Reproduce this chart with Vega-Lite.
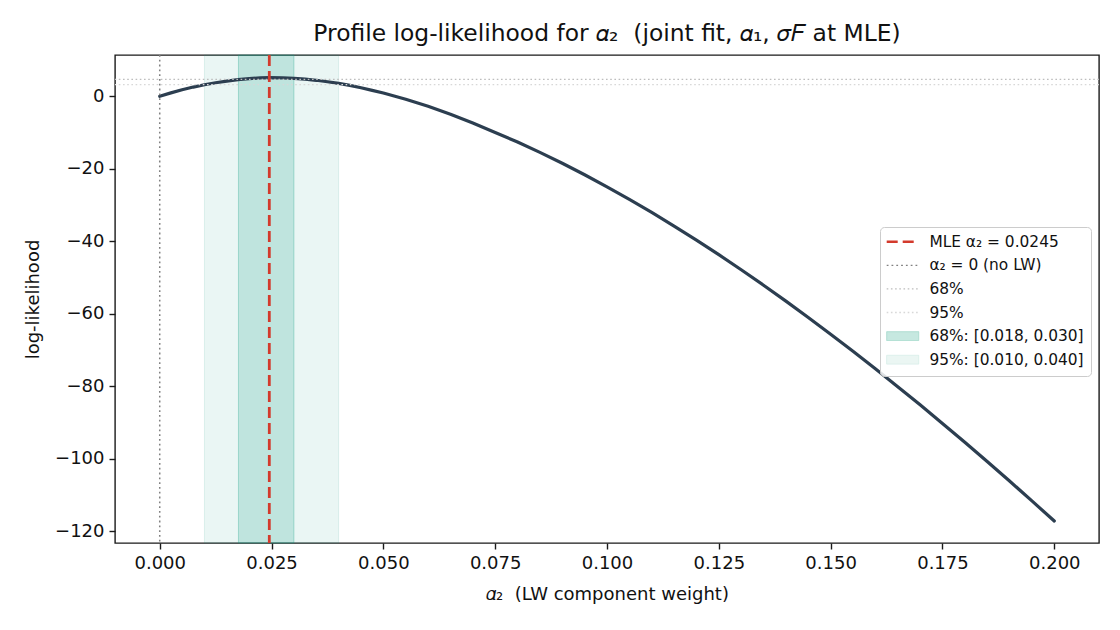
{
  "$schema": "https://vega.github.io/schema/vega-lite/v6.json",
  "width": 984,
  "height": 488,
  "autosize": {"type": "none"},
  "padding": {"left": 115, "top": 55, "right": 21, "bottom": 87},
  "background": "white",
  "config": {
    "font": "DejaVu Sans",
    "view": {"stroke": "#1a1a1a", "strokeWidth": 1.4},
    "axis": {
      "domain": false,
      "grid": false,
      "tickColor": "#1a1a1a",
      "tickWidth": 1.4,
      "tickSize": 6,
      "labelPadding": 5,
      "labelFont": "DejaVu Sans",
      "labelFontSize": 18,
      "labelColor": "#111111",
      "titleFont": "DejaVu Sans",
      "titleFontSize": 18,
      "titleFontWeight": "normal",
      "titleColor": "#111111"
    }
  },
  "title": {
    "text": "Profile log-likelihood for 𝛼₂\u00a0\u00a0(joint fit, 𝛼₁, 𝜎𝐹 at MLE)",
    "font": "DejaVu Sans",
    "fontSize": 23.4,
    "fontWeight": "normal",
    "color": "#111111",
    "anchor": "middle",
    "offset": 7
  },
  "datasets": {
    "curve": [
      {"alpha": 0.0, "loglik": 0.0},
      {"alpha": 0.0025, "loglik": 0.95},
      {"alpha": 0.005, "loglik": 1.8},
      {"alpha": 0.0075, "loglik": 2.55},
      {"alpha": 0.01, "loglik": 3.2},
      {"alpha": 0.0125, "loglik": 3.75},
      {"alpha": 0.015, "loglik": 4.2},
      {"alpha": 0.0175, "loglik": 4.58},
      {"alpha": 0.02, "loglik": 4.88},
      {"alpha": 0.0225, "loglik": 5.08},
      {"alpha": 0.0245, "loglik": 5.15},
      {"alpha": 0.0275, "loglik": 5.1},
      {"alpha": 0.03, "loglik": 4.95},
      {"alpha": 0.0325, "loglik": 4.72},
      {"alpha": 0.035, "loglik": 4.42},
      {"alpha": 0.0375, "loglik": 4.02},
      {"alpha": 0.04, "loglik": 3.55},
      {"alpha": 0.0425, "loglik": 3.0},
      {"alpha": 0.045, "loglik": 2.35},
      {"alpha": 0.0475, "loglik": 1.65},
      {"alpha": 0.05, "loglik": 0.9},
      {"alpha": 0.055, "loglik": -0.82},
      {"alpha": 0.06, "loglik": -2.77},
      {"alpha": 0.065, "loglik": -4.96},
      {"alpha": 0.07, "loglik": -7.35},
      {"alpha": 0.075, "loglik": -9.97},
      {"alpha": 0.08, "loglik": -12.63},
      {"alpha": 0.085, "loglik": -15.48},
      {"alpha": 0.09, "loglik": -18.49},
      {"alpha": 0.095, "loglik": -21.66},
      {"alpha": 0.1, "loglik": -24.98},
      {"alpha": 0.105, "loglik": -28.45},
      {"alpha": 0.11, "loglik": -32.06},
      {"alpha": 0.115, "loglik": -35.81},
      {"alpha": 0.12, "loglik": -39.7},
      {"alpha": 0.125, "loglik": -43.72},
      {"alpha": 0.13, "loglik": -47.87},
      {"alpha": 0.135, "loglik": -52.14},
      {"alpha": 0.14, "loglik": -56.53},
      {"alpha": 0.145, "loglik": -61.04},
      {"alpha": 0.15, "loglik": -65.66},
      {"alpha": 0.155, "loglik": -70.39},
      {"alpha": 0.16, "loglik": -75.22},
      {"alpha": 0.165, "loglik": -80.14},
      {"alpha": 0.17, "loglik": -85.17},
      {"alpha": 0.175, "loglik": -90.3},
      {"alpha": 0.18, "loglik": -95.51},
      {"alpha": 0.185, "loglik": -100.81},
      {"alpha": 0.19, "loglik": -106.19},
      {"alpha": 0.195, "loglik": -111.67},
      {"alpha": 0.2, "loglik": -117.24}
    ],
    "band95": [{"label": "95%: [0.010, 0.040]", "lo": 0.01, "hi": 0.04}],
    "band68": [{"label": "68%: [0.018, 0.030]", "lo": 0.0176, "hi": 0.03}],
    "levels": [
      {"label": "68%", "loglik": 4.65},
      {"label": "95%", "loglik": 3.23}
    ],
    "zero": [{"label": "α₂ = 0 (no LW)", "alpha": 0.0}],
    "mle": [{"label": "MLE α₂ = 0.0245", "alpha": 0.0245}]
  },
  "encoding": {
    "x": {
      "type": "quantitative",
      "scale": {"domain": [-0.01, 0.21], "nice": false, "zero": false},
      "axis": {
        "title": "𝛼₂\u00a0\u00a0(LW component weight)",
        "values": [0, 0.025, 0.05, 0.075, 0.1, 0.125, 0.15, 0.175, 0.2],
        "format": ".3f",
        "titlePadding": 13
      }
    },
    "y": {
      "type": "quantitative",
      "scale": {"domain": [-123.3, 11.4], "nice": false, "zero": false},
      "axis": {
        "title": "log-likelihood",
        "values": [0, -20, -40, -60, -80, -100, -120],
        "format": "d",
        "titlePadding": 12
      }
    }
  },
  "layer": [
    {
      "data": {"name": "band95"},
      "mark": {"type": "rect", "fill": "#16a085", "fillOpacity": 0.09, "stroke": "#16a085", "strokeOpacity": 0.12, "strokeWidth": 1},
      "encoding": {"x": {"field": "lo", "type": "quantitative"}, "x2": {"field": "hi"}}
    },
    {
      "data": {"name": "band68"},
      "mark": {"type": "rect", "fill": "#16a085", "fillOpacity": 0.2, "stroke": "#16a085", "strokeOpacity": 0.3, "strokeWidth": 1},
      "encoding": {"x": {"field": "lo", "type": "quantitative"}, "x2": {"field": "hi"}}
    },
    {
      "data": {"name": "curve"},
      "mark": {"type": "line", "stroke": "#2c3e50", "strokeWidth": 3.2, "strokeCap": "round", "strokeJoin": "round"},
      "encoding": {
        "x": {"field": "alpha", "type": "quantitative"},
        "y": {"field": "loglik", "type": "quantitative"}
      }
    },
    {
      "data": {"name": "levels"},
      "mark": {"type": "rule", "strokeWidth": 1.3},
      "encoding": {
        "y": {"field": "loglik", "type": "quantitative"},
        "stroke": {
          "field": "label", "type": "nominal",
          "scale": {
            "domain": ["MLE α₂ = 0.0245", "α₂ = 0 (no LW)", "68%", "95%", "68%: [0.018, 0.030]", "95%: [0.010, 0.040]"],
            "range": ["#d33a2c", "#808080", "#bdbdbd", "#d8d8d8", "#a6dacd", "#d9efe9"]
          },
          "legend": {
            "orient": "none", "legendX": 765, "legendY": 172, "title": null,
            "symbolType": "M-2,0H2", "symbolSize": 256, "symbolOffset": 8, "symbolStrokeWidth": 1.4,
            "labelFont": "DejaVu Sans", "labelFontSize": 15.4, "labelColor": "#111111", "labelOffset": 19, "labelLimit": 400,
            "rowPadding": 6.6, "padding": 7,
            "fillColor": "rgba(255,255,255,0.85)", "strokeColor": "#cccccc", "cornerRadius": 4,
            "encode": {"symbols": {"update": {
              "strokeWidth": {"signal": "datum.value === 'MLE α₂ = 0.0245' ? 2.6 : (datum.value === '68%: [0.018, 0.030]' || datum.value === '95%: [0.010, 0.040]') ? 1 : 1.3"},
              "shape": {"signal": "(datum.value === '68%: [0.018, 0.030]' || datum.value === '95%: [0.010, 0.040]') ? 'M-2,-0.55H2V0.55H-2Z' : 'M-2,0H2'"},
              "fill": {"signal": "datum.value === '68%: [0.018, 0.030]' ? '#c6e8e0' : datum.value === '95%: [0.010, 0.040]' ? '#ebf6f3' : 'transparent'"}
            }}}
          }
        },
        "strokeDash": {
          "field": "label", "type": "nominal",
          "scale": {
            "domain": ["MLE α₂ = 0.0245", "α₂ = 0 (no LW)", "68%", "95%", "68%: [0.018, 0.030]", "95%: [0.010, 0.040]"],
            "range": [[11, 5], [1.8, 3], [1.6, 2.6], [1.6, 2.6], [1, 0], [1, 0]]
          },
          "legend": {
            "orient": "none", "legendX": 765, "legendY": 172, "title": null,
            "symbolType": "M-2,0H2", "symbolSize": 256, "symbolOffset": 8, "symbolStrokeWidth": 1.4,
            "labelFont": "DejaVu Sans", "labelFontSize": 15.4, "labelColor": "#111111", "labelOffset": 19, "labelLimit": 400,
            "rowPadding": 6.6, "padding": 7,
            "fillColor": "rgba(255,255,255,0.85)", "strokeColor": "#cccccc", "cornerRadius": 4,
            "encode": {"symbols": {"update": {
              "strokeWidth": {"signal": "datum.value === 'MLE α₂ = 0.0245' ? 2.6 : (datum.value === '68%: [0.018, 0.030]' || datum.value === '95%: [0.010, 0.040]') ? 1 : 1.3"},
              "shape": {"signal": "(datum.value === '68%: [0.018, 0.030]' || datum.value === '95%: [0.010, 0.040]') ? 'M-2,-0.55H2V0.55H-2Z' : 'M-2,0H2'"},
              "fill": {"signal": "datum.value === '68%: [0.018, 0.030]' ? '#c6e8e0' : datum.value === '95%: [0.010, 0.040]' ? '#ebf6f3' : 'transparent'"}
            }}}
          }
        }
      }
    },
    {
      "data": {"name": "zero"},
      "mark": {"type": "rule", "strokeWidth": 1.5},
      "encoding": {
        "x": {"field": "alpha", "type": "quantitative"},
        "stroke": {"field": "label", "type": "nominal"},
        "strokeDash": {"field": "label", "type": "nominal"}
      }
    },
    {
      "data": {"name": "mle"},
      "mark": {"type": "rule", "strokeWidth": 2.8},
      "encoding": {
        "x": {"field": "alpha", "type": "quantitative"},
        "stroke": {"field": "label", "type": "nominal"},
        "strokeDash": {"field": "label", "type": "nominal"}
      }
    }
  ]
}
